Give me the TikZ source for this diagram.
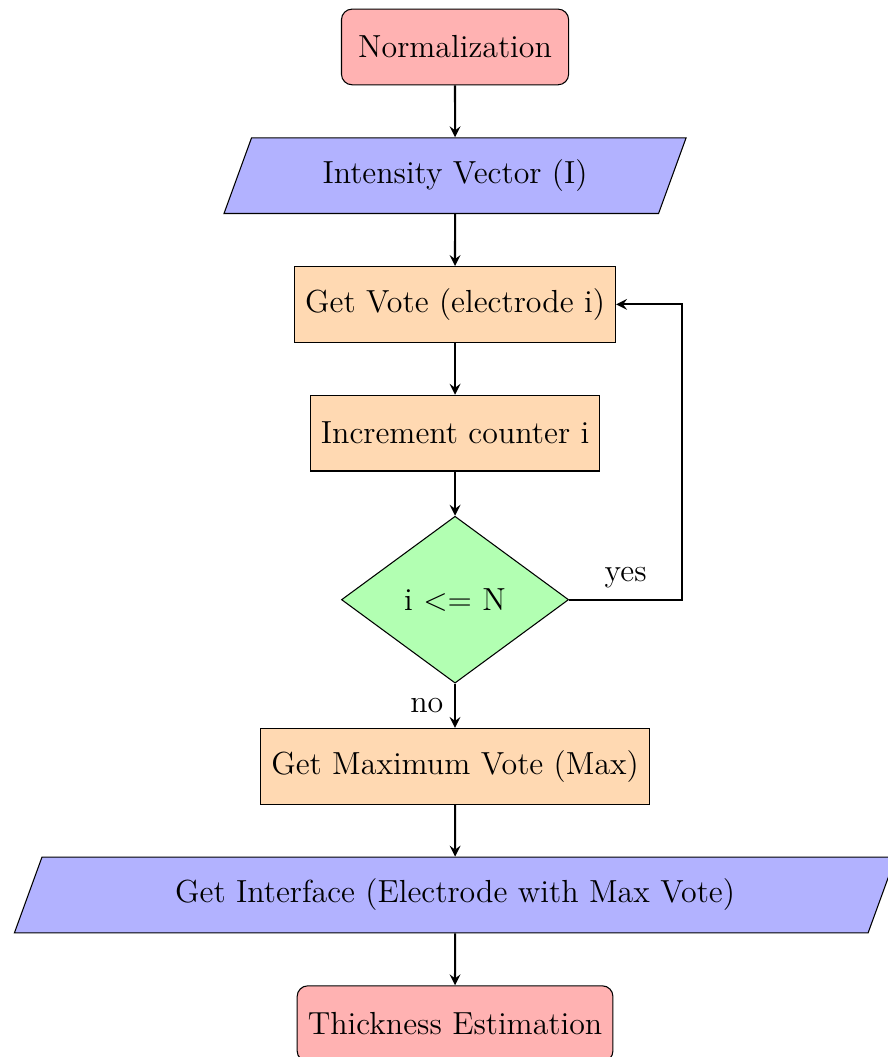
\documentclass[12pt,tikz,border=0pt]{standalone}
\usetikzlibrary{shapes.geometric,arrows}

\tikzset{
  startstop/.style={rectangle, rounded corners, minimum width=3cm, minimum height=1cm, text centered, draw=black, fill=red!30},
  io/.style={trapezium, trapezium left angle=70, trapezium right angle=110, minimum width=3cm, minimum height=1cm, text centered, draw=black, fill=blue!30},
  process/.style={rectangle, minimum width=3cm, minimum height=1cm, text centered, draw=black, fill=orange!30},
  decision/.style={diamond, minimum width=3cm, minimum height=1cm, text centered, draw=black, fill=green!30},
  arrow/.style={thick,->,>=stealth}
}

\begin{document}
\begin{tikzpicture}

\useasboundingbox (-6.01,0.62) rectangle (5.71,-13.34);

\node[startstop] (norm) at (0,0) {Normalization};
\node[io] (vec) at (0,-1.7) {Intensity Vector (I)};
\node[process] (vote) at (0,-3.4) {Get Vote (electrode i)};
\node[process] (incr) at (0,-5.1) {Increment counter i};
\node[decision] (dec) at (0,-7.3) {i <= N};
\node[process] (max) at (0,-9.5) {Get Maximum Vote (Max)};
\node[io] (iface) at (0,-11.2) {Get Interface (Electrode with Max Vote)};
\node[startstop] (thick) at (0,-12.9) {Thickness Estimation};

\coordinate (loop) at (3,-7.3);

\draw[arrow] (norm) -- (vec);
\draw[arrow] (vec) -- (vote);
\draw[arrow] (vote) -- (incr);
\draw[arrow] (incr) -- (dec);
\draw[arrow] (dec) -- node[anchor=east] {no} (max);
\draw[arrow] (dec.east) -- node[anchor=south] {yes} (loop) |- (vote.east);
\draw[arrow] (max) -- (iface);
\draw[arrow] (iface) -- (thick);

\end{tikzpicture}
\end{document}
